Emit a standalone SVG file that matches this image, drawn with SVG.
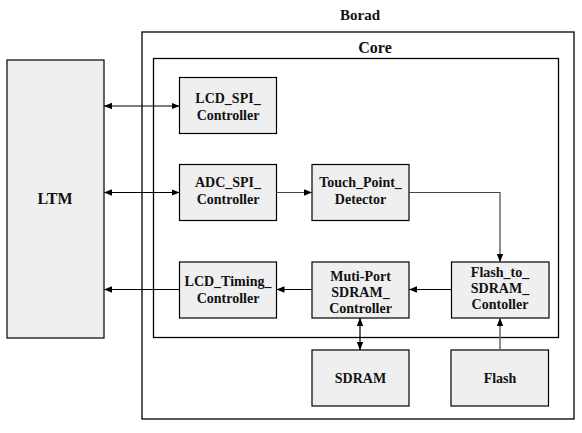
<svg xmlns="http://www.w3.org/2000/svg" width="582" height="433" viewBox="0 0 582 433">
<defs>
<marker id="ah" viewBox="0 0 8 8" refX="8" refY="4" markerWidth="8" markerHeight="8" markerUnits="userSpaceOnUse" orient="auto-start-reverse">
<path d="M0,0.8 L8,4 L0,7.2 Z" fill="#000"/>
</marker>
</defs>
<style>
.frame{fill:none;stroke:#000;stroke-width:1.3}
.box{fill:#efefef;stroke:#000;stroke-width:1.2}
text{font-weight:bold;fill:#111;text-anchor:middle}
.t{font-size:14px}
.big{font-size:16px}
.con{fill:none;stroke:#000;stroke-width:1.2}
.gray{stroke:#444}
</style>
<rect width="582" height="433" fill="#fff"/>
<g font-family="Liberation Serif, DejaVu Serif, Times New Roman, serif">
<g id="board">
<rect class="frame" x="142" y="32" width="432" height="387"/>
<text class="big" x="360" y="20" style="font-size:15px">Borad</text>
</g>
<g id="core">
<rect class="frame" x="153.5" y="58.5" width="405" height="279"/>
<text class="big" x="375" y="53">Core</text>
</g>
<g id="ltm">
<rect class="box" x="7" y="60" width="97" height="278"/>
<text class="big" x="55" y="204">LTM</text>
</g>
<g id="lcd_spi">
<rect class="box" x="179.5" y="77.5" width="97" height="56"/>
<text class="t" x="228" y="103">LCD_SPI_</text>
<text class="t" x="228" y="120">Controller</text>
</g>
<g id="adc_spi">
<rect class="box" x="179.5" y="164.5" width="97" height="56"/>
<text class="t" x="228" y="187">ADC_SPI_</text>
<text class="t" x="228" y="204">Controller</text>
</g>
<g id="touch">
<rect class="box" x="312" y="164.5" width="97" height="56"/>
<text class="t" x="360.5" y="187">Touch_Point_</text>
<text class="t" x="360.5" y="204">Detector</text>
</g>
<g id="lcd_timing">
<rect class="box" x="179.5" y="262" width="97" height="56"/>
<text class="t" x="228" y="286">LCD_Timing_</text>
<text class="t" x="228" y="303">Controller</text>
</g>
<g id="muti">
<rect class="box" x="312" y="262" width="97" height="56"/>
<text class="t" x="360.5" y="281">Muti-Port</text>
<text class="t" x="360.5" y="297">SDRAM_</text>
<text class="t" x="360.5" y="313">Controller</text>
</g>
<g id="flash_to">
<rect class="box" x="451.5" y="262" width="97.5" height="56"/>
<text class="t" x="500" y="277">Flash_to_</text>
<text class="t" x="500" y="293">SDRAM_</text>
<text class="t" x="500" y="309">Contoller</text>
</g>
<g id="sdram">
<rect class="box" x="312" y="350" width="97" height="56"/>
<text class="t" x="360.5" y="383">SDRAM</text>
</g>
<g id="flash">
<rect class="box" x="451" y="350" width="97.5" height="56"/>
<text class="t" x="500" y="383">Flash</text>
</g>
</g>
<g id="connectors">
<line class="con" x1="104" y1="106" x2="179.5" y2="106" marker-start="url(#ah)" marker-end="url(#ah)"/>
<line class="con" x1="104" y1="192.5" x2="179.5" y2="192.5" marker-start="url(#ah)" marker-end="url(#ah)"/>
<line class="con gray" x1="276.5" y1="192.5" x2="312" y2="192.5" marker-end="url(#ah)"/>
<polyline class="con gray" points="409,192.5 500,192.5 500,262" marker-end="url(#ah)"/>
<line class="con" x1="451.5" y1="289.5" x2="409" y2="289.5" marker-end="url(#ah)"/>
<line class="con" x1="312" y1="289.5" x2="276.5" y2="289.5" marker-end="url(#ah)"/>
<line class="con" x1="179.5" y1="289.5" x2="104" y2="289.5" marker-end="url(#ah)"/>
<line class="con" x1="360" y1="318" x2="360" y2="350" marker-start="url(#ah)" marker-end="url(#ah)"/>
<line class="con gray" x1="500" y1="350" x2="500" y2="318" marker-end="url(#ah)" style="stroke:#666;stroke-width:1.5"/>
</g>
</svg>
